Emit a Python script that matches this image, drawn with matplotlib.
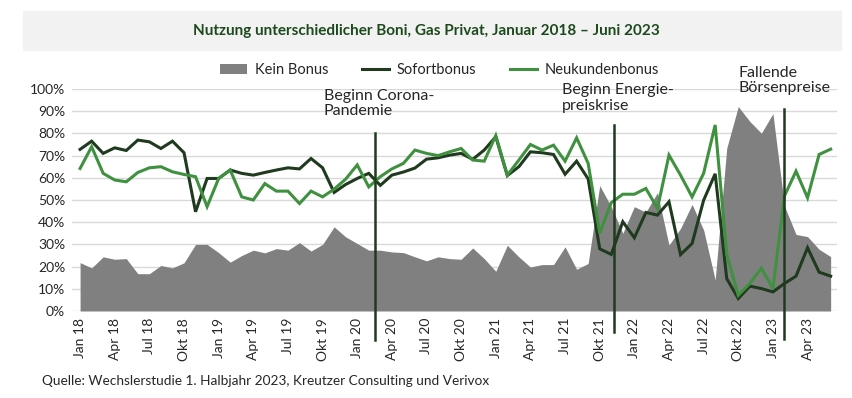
#!/usr/bin/env python3
"""
Nutzung unterschiedlicher Boni, Gas Privat, Jan 2018 - Jun 2023
"""

import pandas as pd
import matplotlib
matplotlib.use('Agg')
import matplotlib.pyplot as plt
from matplotlib.patches import Patch, Rectangle
from matplotlib.lines import Line2D

plt.rcParams['font.family'] = ['Lato', 'DejaVu Sans']

# monthly shares in percent, Jan 2018 .. Jun 2023
kein_bonus = [21.8, 19.4, 24.4, 23.3, 23.6, 16.8, 16.8, 20.5, 19.4, 21.7, 30.0, 30.0,
              26.3, 22.0, 25.0, 27.4, 26.2, 28.1, 27.4, 30.8, 27.0, 30.0, 37.9, 33.4,
              30.4, 27.4, 27.4, 26.6, 26.3, 24.4, 22.6, 24.4, 23.6, 23.3, 28.4, 23.6,
              17.9, 29.6, 24.4, 19.8, 20.9, 20.9, 28.9, 18.8, 21.4, 56.5, 47.0, 35.0,
              47.0, 44.5, 53.3, 29.7, 37.2, 48.0, 36.5, 14.0, 73.3, 92.1, 85.4, 80.1,
              88.9, 47.3, 34.5, 33.5, 27.8, 24.5]
sofortbonus = [72.8, 76.5, 71.0, 73.5, 72.3, 77.0, 76.2, 73.2, 76.5, 71.3, 44.7, 59.7,
               59.7, 63.5, 62.0, 61.2, 62.4, 63.5, 64.5, 64.0, 68.7, 64.5, 53.4, 57.0,
               59.7, 62.0, 56.6, 61.2, 62.6, 64.4, 68.4, 69.0, 70.2, 71.0, 68.3, 72.5,
               78.5, 61.0, 65.0, 71.7, 71.3, 70.5, 61.6, 67.5, 59.5, 28.0, 25.5, 40.2,
               33.0, 44.4, 43.2, 49.2, 25.4, 30.4, 49.9, 61.8, 14.6, 5.6, 11.2, 10.1,
               8.6, 12.4, 15.7, 28.5, 17.5, 15.7]
neukundenbonus = [64.2, 74.0, 62.0, 59.0, 58.2, 62.4, 64.5, 65.0, 62.7, 61.5, 60.5, 47.0,
                  59.7, 63.5, 51.4, 50.0, 57.4, 54.0, 54.0, 48.4, 54.0, 51.4, 54.9, 59.4,
                  65.8, 55.9, 60.5, 64.0, 66.5, 72.5, 71.0, 70.0, 71.7, 73.2, 68.0, 67.5,
                  79.0, 61.2, 68.0, 75.0, 72.5, 74.7, 67.5, 78.0, 66.5, 35.0, 48.8, 52.6,
                  52.6, 55.2, 46.2, 70.2, 61.2, 51.4, 62.0, 83.8, 25.5, 7.1, 12.4, 19.3,
                  10.1, 51.8, 63.0, 51.0, 70.5, 72.9]

monate_de = {1: 'Jan', 4: 'Apr', 7: 'Jul', 10: 'Okt'}
zeitraum = pd.period_range('2018-01', '2023-06', freq='M')

# events: label, month position, line top (%), line bottom (%)
ereignisse = [('Beginn Corona-\nPandemie', 25.5, 80.3, -13.0),
              ('Beginn Energie-\npreiskrise', 46.25, 83.9, -9.5),
              ('Fallende\nBörsenpreise', 61.0, 91.0, -12.6)]
text_pos = [(21.1, 100.0), (41.7, 102.5), (57.0, 110.5)]

c_grau = '#808080'
c_sofort = '#1f3a1f'
c_neu = '#3f913f'
c_text = '#262626'

fig = plt.figure(figsize=(8.53, 3.98), dpi=100)
ax = fig.add_axes([72 / 853, 1 - 311 / 398, 765 / 853, 222 / 398])

x = range(len(zeitraum))
ax.fill_between(x, kein_bonus, 0, color=c_grau, lw=0, zorder=2)
ax.plot(x, sofortbonus, color=c_sofort, lw=2.2, zorder=3, solid_joinstyle='miter')
ax.plot(x, neukundenbonus, color=c_neu, lw=2.2, zorder=4, solid_joinstyle='miter')

for (label, pos, top, bottom), (tx, ty) in zip(ereignisse, text_pos):
    ax.plot([pos, pos], [bottom, top], color=c_sofort, lw=1.8, clip_on=False, zorder=5)
    ax.text(tx, ty, label, fontsize=11.5, color=c_text, va='top', ha='left',
            linespacing=1.1, clip_on=False, zorder=6)

ax.set_xlim(-0.7, 65.55)
ax.set_ylim(0, 100)
ax.set_yticks(range(0, 101, 10))
ax.set_yticklabels([f'{v}%' for v in range(0, 101, 10)], fontsize=10, color=c_text)
ticks = [i for i, p in enumerate(zeitraum) if p.month in monate_de]
ax.set_xticks(ticks)
ax.set_xticklabels([f'{monate_de[zeitraum[i].month]} {zeitraum[i].year % 100}' for i in ticks],
                   rotation=90, fontsize=10, color=c_text)
ax.tick_params(length=0, pad=5)
ax.grid(axis='y', color='#d9d9d9', lw=1, zorder=0)
for s in ax.spines.values():
    s.set_visible(False)

# title box
fig.patches.append(Rectangle((23 / 853, 1 - 50 / 398), 818 / 853, 39 / 398,
                             transform=fig.transFigure, color='#f2f2f2', zorder=0))
fig.text(0.5, 1 - 31 / 398, 'Nutzung unterschiedlicher Boni, Gas Privat, Januar 2018 \u2013 Juni 2023',
         ha='center', va='center', fontsize=11, fontweight='bold', color='#1d4a1d')

handles = [Patch(facecolor=c_grau, edgecolor='none'),
           Line2D([], [], color=c_sofort, lw=2.2),
           Line2D([], [], color=c_neu, lw=2.2)]
fig.legend(handles, ['Kein Bonus', 'Sofortbonus', 'Neukundenbonus'], ncol=3,
           loc='center', bbox_to_anchor=(0.515, 1 - 70 / 398), frameon=False,
           fontsize=10.5, handlelength=1.9, columnspacing=2.3, handletextpad=0.5,
           labelcolor=c_text)

fig.text(42 / 853, 1 - 381 / 398,
         'Quelle: Wechslerstudie 1. Halbjahr 2023, Kreutzer Consulting und Verivox',
         ha='left', va='center', fontsize=9.8, color=c_text)

plt.savefig('out.png', dpi=100)
